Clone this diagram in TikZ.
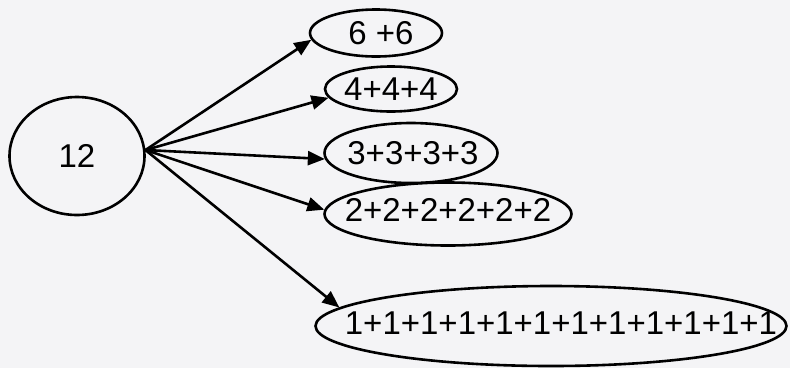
\documentclass[tikz,border=0pt]{standalone}
\usepackage{fontspec}
\setmainfont{Liberation Sans}
\usetikzlibrary{arrows.meta,shapes.geometric}
\definecolor{paper}{RGB}{244,244,246}
\begin{document}
\begin{tikzpicture}[x=1pt,y=-1pt,
  oval/.style={draw,ellipse,inner sep=0pt,line width=2.6pt},
  txt/.style={font=\fontsize{33}{38}\selectfont,inner sep=0pt},
  arr/.style={-{Triangle[length=17pt,width=14pt]},line width=2.6pt}]
\fill[paper] (0,0) rectangle (790,368);
\useasboundingbox (0,0) rectangle (790,368);
\node[oval,minimum width=135pt,minimum height=118pt,label={[txt]center:12}] (c) at (77,156) {};
\node[oval,minimum width=132pt,minimum height=47pt,label={[txt,xshift=5pt]center:6 +6}] (e1) at (376,33) {};
\node[oval,minimum width=132pt,minimum height=45pt,label={[txt]center:4+4+4}] (e2) at (391,89) {};
\node[oval,minimum width=173pt,minimum height=60pt,label={[txt,xshift=2pt]center:3+3+3+3}] (e3) at (411,153) {};
\node[oval,minimum width=247pt,minimum height=63pt,label={[txt,yshift=4pt]center:2+2+2+2+2+2}] (e4) at (448,214) {};
\node[oval,minimum width=471pt,minimum height=80pt,label={[txt,xshift=10pt,yshift=3pt]center:1+1+1+1+1+1+1+1+1+1+1+1}] (e5) at (551,326) {};
\draw[arr] (c.5) -- (e1.186);
\draw[arr] (c.5) -- (e2.188);
\draw[arr] (c.5) -- (e3.184);
\draw[arr] (c.5) -- (e4.178);
\draw[arr] (c.5) -- (e5.175);
\end{tikzpicture}
\end{document}
